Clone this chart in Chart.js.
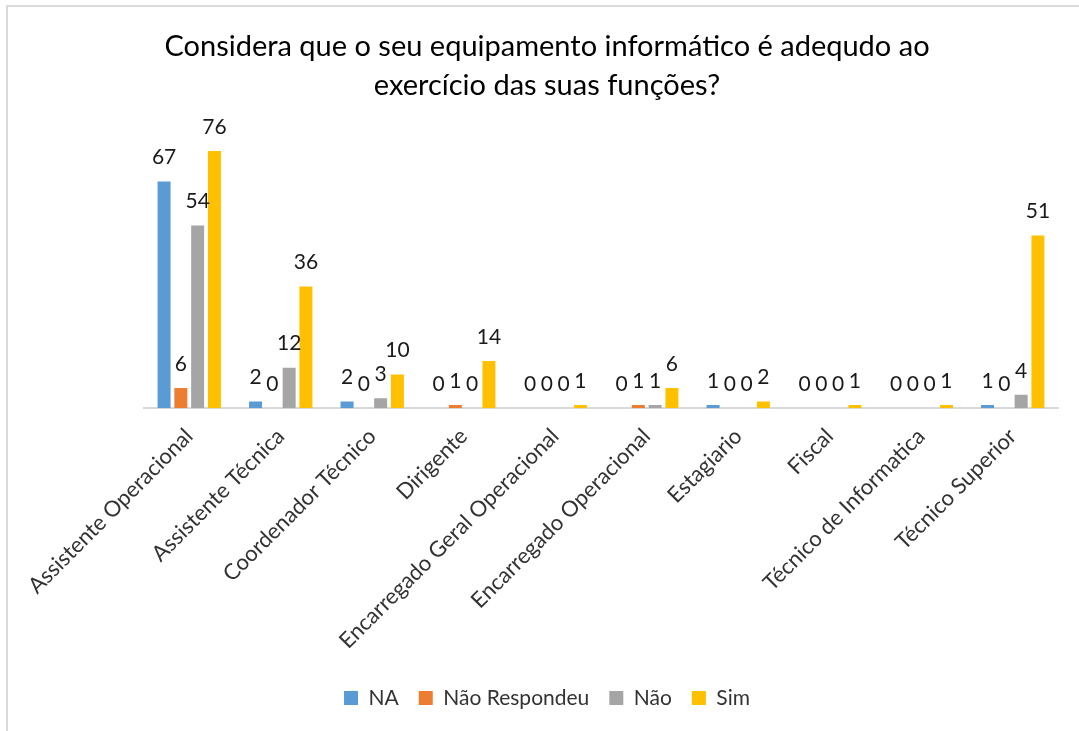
<!DOCTYPE html>
<html>
<head>
<meta charset="utf-8">
<script src="https://cdn.jsdelivr.net/npm/chart.js@4.4.1/dist/chart.umd.min.js"></script>
<style>
html,body{margin:0;padding:0;overflow:hidden;background:#fff;width:1079px;height:731px;}
#frame{position:absolute;left:6px;top:5px;width:1082px;height:735px;border:2px solid #d9d9d9;box-sizing:border-box;background:#fff;}
#c{position:absolute;left:0;top:0;}
</style>
</head>
<body>
<div id="frame"><canvas id="c" width="1078" height="731"></canvas></div>
<script>
const categories = ["Assistente Operacional","Assistente Técnica","Coordenador Técnico","Dirigente","Encarregado Geral Operacional","Encarregado Operacional","Estagiario","Fiscal","Técnico de Informatica","Técnico Superior"];
const seriesNames = ["NA","Não Respondeu","Não","Sim"];
const naValues = [67,2,2,0,0,0,1,0,0,1];
const naoRespondeuValues = [6,0,0,1,0,1,0,0,0,0];
const naoValues = [54,12,3,0,0,1,0,0,0,4];
const simValues = [76,36,10,14,1,6,2,1,1,51];
const titleLines = ["Considera que o seu equipamento informático é adequdo ao","exercício das suas funções?"];
const colors = ["#5b9bd5","#ed7d31","#a5a5a5","#ffc000"];
const allValues = [naValues,naoRespondeuValues,naoValues,simValues];

const FONT = "Lato, 'Open Sans', sans-serif";

const valueLabels = {
  id:'valueLabels',
  afterDatasetsDraw(chart){
    const ctx = chart.ctx;
    ctx.save();
    ctx.font = "21px " + FONT;
    ctx.fillStyle = "#1a1a1a";
    ctx.textAlign = "center";
    ctx.textBaseline = "middle";
    chart.data.datasets.forEach((ds,i)=>{
      const meta = chart.getDatasetMeta(i);
      meta.data.forEach((bar,j)=>{
        ctx.fillText(String(ds.data[j]), bar.x, bar.y - 24);
      });
    });
    ctx.restore();
  }
};

new Chart(document.getElementById('c'), {
  type:'bar',
  data:{
    labels: categories,
    datasets: seriesNames.map((n,i)=>({
      label:n,
      data: allValues[i],
      backgroundColor: colors[i],
      borderWidth:0,
      categoryPercentage:0.734,
      barPercentage:0.774
    }))
  },
  options:{
    responsive:false,
    animation:false,
    devicePixelRatio:1,
    layout:{padding:{left:27.5,right:27.5,top:0,bottom:19.5}},
    plugins:{
      title:{
        display:true,
        text:titleLines,
        color:"#000",
        font:{family:FONT,size:29,weight:'normal',lineHeight:1.345},
        padding:{top:20.5,bottom:31.9}
      },
      legend:{
        position:'bottom',
        labels:{
          font:{family:FONT,size:21},
          color:"#333",
          boxWidth:14,
          boxHeight:14,
          padding:20
        }
      },
      tooltip:{enabled:false}
    },
    scales:{
      x:{
        grid:{display:false,drawTicks:false},
        border:{display:true,color:"#d9d9d9",width:2},
        ticks:{
          autoSkip:false,
          minRotation:45,
          maxRotation:45,
          padding:15,
          color:"#333",
          font:{family:FONT,size:22}
        },
        afterFit(scale){ scale.height = 259.2; scale.paddingLeft = 0; scale.paddingRight = 0; }
      },
      y:{
        display:true,
        min:0,
        max:80,
        grid:{display:false,drawTicks:false},
        border:{display:false},
        ticks:{display:false},
        afterFit(scale){ scale.width = 108; }
      }
    }
  },
  plugins:[valueLabels]
});
</script>
</body>
</html>
